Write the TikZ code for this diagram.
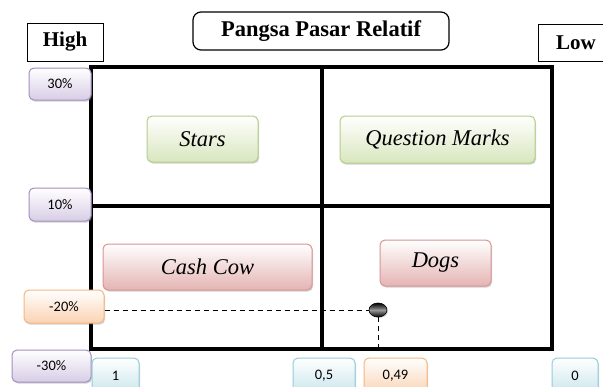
\documentclass[tikz,border=0pt]{standalone}
\usepackage{fontspec}
\setmainfont{Liberation Serif}
\newfontfamily\tnr{Liberation Serif}
\newfontfamily\calib{Carlito}
\usetikzlibrary{shadows,shapes.geometric}
\definecolor{purB}{HTML}{A390C0}
\definecolor{purF}{HTML}{D8CDE6}
\definecolor{grnB}{HTML}{B4CE88}
\definecolor{grnF}{HTML}{D8E6BE}
\definecolor{pnkB}{HTML}{D99594}
\definecolor{pnkF}{HTML}{E4B4B3}
\definecolor{orgB}{HTML}{F8B67C}
\definecolor{orgF}{HTML}{FAD3B3}
\definecolor{cynB}{HTML}{93CDDC}
\definecolor{cynF}{HTML}{C9E5EC}
\tikzset{
  pill/.style={rounded corners=5pt, draw, line width=1pt, inner sep=0pt, anchor=center,
    drop shadow={shadow xshift=1pt, shadow yshift=-1.5pt, opacity=0.35}},
  numbox/.style={pill, font=\calib\fontsize{14.5}{16}\selectfont},
  purp/.style={numbox, draw=purB, top color=white, bottom color=purF},
  orng/.style={numbox, draw=orgB, top color=white, bottom color=orgF},
  cyan/.style={numbox, draw=cynB, top color=white, bottom color=cynF},
  quad/.style={pill, font=\tnr\itshape\fontsize{22.5}{25}\selectfont},
  grn/.style={quad, draw=grnB, top color=white, bottom color=grnF},
  pnk/.style={quad, draw=pnkB, top color=white, bottom color=pnkF},
  lbl/.style={draw, line width=0.9pt, inner sep=0pt, anchor=center, font=\tnr\bfseries\fontsize{21}{24}\selectfont},
  grid/.style={line width=3.5pt},
  guide/.style={line width=1pt, dash pattern=on 5pt off 4pt}
}
\begin{document}
\begin{tikzpicture}[x=1pt,y=-1pt]
\clip (0,0) rectangle (603,386);
\fill[white] (0,0) rectangle (603,386);
% grid
\coordinate (tl) at (91,67);
\coordinate (br) at (552,349);
\coordinate (ml) at (91,206);
\coordinate (mr) at (552,206);
\coordinate (mt) at (322,67);
\coordinate (mb) at (322,349);
\draw[grid] (tl) rectangle (br);
\draw[grid] (ml) -- (mr);
\draw[grid] (mt) -- (mb);
% headers
\node[lbl, minimum width=76pt, minimum height=38pt] (high) at (65,42) {High};
\node[lbl, rounded corners=8pt, line width=1.2pt, minimum width=256pt, minimum height=38pt,
  font=\tnr\bfseries\fontsize{22.5}{25}\selectfont] (title) at (321,31) {Pangsa Pasar Relatif};
\node[lbl, minimum width=76pt, minimum height=37pt] (low) at (576,42.5) {Low};
% quadrant labels
\node[grn, minimum width=111pt, minimum height=46pt] (stars) at (202.5,139) {Stars};
\node[grn, minimum width=195pt, minimum height=47pt] (qm) at (437.5,139.5) {Question Marks};
\node[pnk, minimum width=209pt, minimum height=46pt] (cash) at (207.5,267) {Cash Cow};
\node[pnk, minimum width=111pt, minimum height=46pt] (dogs) at (435.5,263) {Dogs};
% y axis values
\node[purp, minimum width=62pt, minimum height=32pt] (p30) at (60,84) {30\%};
\node[purp, minimum width=62pt, minimum height=33pt] (p10) at (60,204.5) {10\%};
\node[orng, minimum width=80pt, minimum height=33pt] (m20) at (64,306.5) {-20\%};
\node[purp, minimum width=79pt, minimum height=32pt] (m30) at (51.5,366) {-30\%};
% x axis values
\node[cyan, minimum width=47pt, minimum height=36pt] (x1) at (115.5,376) {1};
\node[cyan, minimum width=62pt, minimum height=36pt] (x05) at (324,376) {0,5};
\node[orng, minimum width=63pt, minimum height=36pt] (x049) at (395.5,376) {0,49};
\node[cyan, minimum width=46pt, minimum height=36pt] (x0) at (575,376) {0};
% point
\node[ellipse, draw=black, line width=0.6pt, minimum width=18pt, minimum height=14pt, inner sep=0pt,
  top color=black, bottom color=black, middle color=gray!80,
  drop shadow={shadow xshift=1pt, shadow yshift=-1pt, opacity=0.35}] (dot) at (378,310) {};
\coordinate (foot) at (dot.south |- br);
\draw[guide] (m20.east |- dot.west) -- (dot.west);
\draw[guide] (dot.south) -- (foot);
\end{tikzpicture}
\end{document}
